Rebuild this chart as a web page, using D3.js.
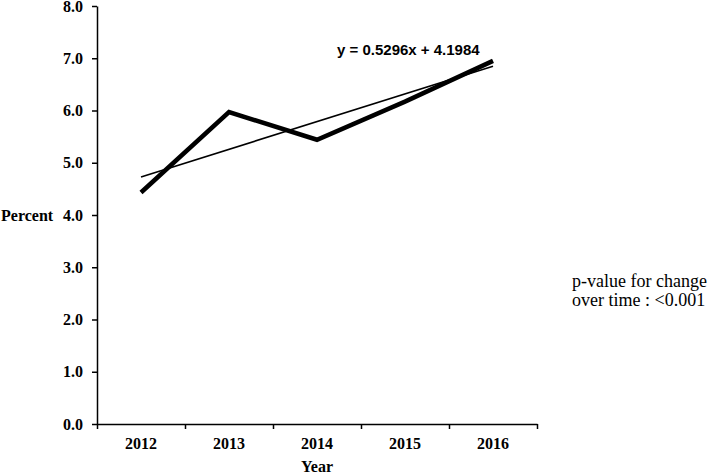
<!DOCTYPE html>
<html>
<head>
<meta charset="utf-8">
<script src="https://cdn.jsdelivr.net/npm/d3@7"></script>
<style>
  body { margin: 0; background: #fff; }
  .axis path, .axis line { stroke: #000; stroke-width: 1.5px; }
  .axis text { font-family: "Liberation Serif", "Times New Roman", serif; font-weight: bold; font-size: 16px; fill: #000; }
</style>
</head>
<body>
<div class="line_chart"></div>
<script>
// chart data
var years = ["2012", "2013", "2014", "2015", "2016"];
var percent = [4.43, 5.97, 5.44, 6.17, 6.95];
var yTicks = [0, 1, 2, 3, 4, 5, 6, 7, 8];
var trendSlope = 0.5296,
  trendIntercept = 4.1984;
var trendLabel = "y = 0.5296x + 4.1984";
var noteLines = ["p-value for change", "over time : <0.001"];

var margin = { top: 6, right: 172, bottom: 49, left: 97 },
  width = 709 - margin.left - margin.right,
  height = 473 - margin.top - margin.bottom;

var svg = d3
  .select(".line_chart")
  .append("svg")
  .attr("width", 709)
  .attr("height", 473);

var chart = svg
  .append("g")
  .attr("transform", "translate(" + margin.left + "," + margin.top + ")");

// scales
var x = d3.scaleBand().domain(years).range([0, width]);
var xEdge = d3.scaleLinear().domain([0, years.length]).range([0, width]);
var y = d3.scaleLinear().domain([0, 8]).range([height, 0]);

// boundary ticks on x axis
chart
  .append("g")
  .attr("class", "x axis")
  .attr("transform", "translate(0," + height + ")")
  .call(
    d3.axisBottom(xEdge).tickValues(d3.range(0, years.length + 1)).tickSize(5).tickSizeOuter(0).tickFormat("")
  );

// year labels
chart
  .append("g")
  .attr("class", "x axis labels")
  .attr("transform", "translate(0," + height + ")")
  .call(d3.axisBottom(x).tickSize(0).tickPadding(14))
  .call(function (g) {
    g.select(".domain").remove();
  });

// y-axis
chart
  .append("g")
  .attr("class", "y axis")
  .call(
    d3.axisLeft(y).tickValues(yTicks).tickSize(5).tickSizeOuter(0).tickPadding(9).tickFormat(d3.format(".1f"))
  );

// axis titles
svg
  .append("text")
  .attr("x", margin.left + width / 2)
  .attr("y", 472)
  .attr("text-anchor", "middle")
  .style("font-family", "Liberation Serif, Times New Roman, serif")
  .style("font-weight", "bold")
  .style("font-size", "16px")
  .text("Year");

svg
  .append("text")
  .attr("x", 1)
  .attr("y", margin.top + y(4))
  .attr("dy", "0.35em")
  .style("font-family", "Liberation Serif, Times New Roman, serif")
  .style("font-weight", "bold")
  .style("font-size", "16px")
  .text("Percent");

// trend line
var trendData = [0, years.length - 1].map(function (i) {
  return { year: years[i], value: trendSlope * (i + 1) + trendIntercept };
});

var line = d3
  .line()
  .x(function (d) {
    return x(d.year) + x.bandwidth() / 2;
  })
  .y(function (d) {
    return y(d.value);
  });

chart
  .append("path")
  .datum(trendData)
  .attr("fill", "none")
  .attr("stroke", "#000")
  .attr("stroke-width", 1.6)
  .attr("d", line);

// data line
var series = years.map(function (d, i) {
  return { year: d, value: percent[i] };
});

chart
  .append("path")
  .datum(series)
  .attr("fill", "none")
  .attr("stroke", "#000")
  .attr("stroke-width", 4.5)
  .attr("stroke-linejoin", "miter")
  .attr("d", line);

// trend equation
chart
  .append("text")
  .attr("x", x("2015") - 24)
  .attr("y", y(7.1) + 2)
  .style("font-family", "Liberation Sans, Arial, sans-serif")
  .style("font-weight", "bold")
  .style("font-size", "15px")
  .text(trendLabel);

// p-value note
var note = svg
  .append("text")
  .attr("x", 572)
  .attr("y", 287)
  .style("font-family", "Liberation Serif, Times New Roman, serif")
  .style("font-size", "18px");

note
  .selectAll("tspan")
  .data(noteLines)
  .enter()
  .append("tspan")
  .attr("x", 572)
  .attr("dy", function (d, i) {
    return i == 0 ? 0 : 19;
  })
  .text(function (d) {
    return d;
  });
</script>
</body>
</html>
